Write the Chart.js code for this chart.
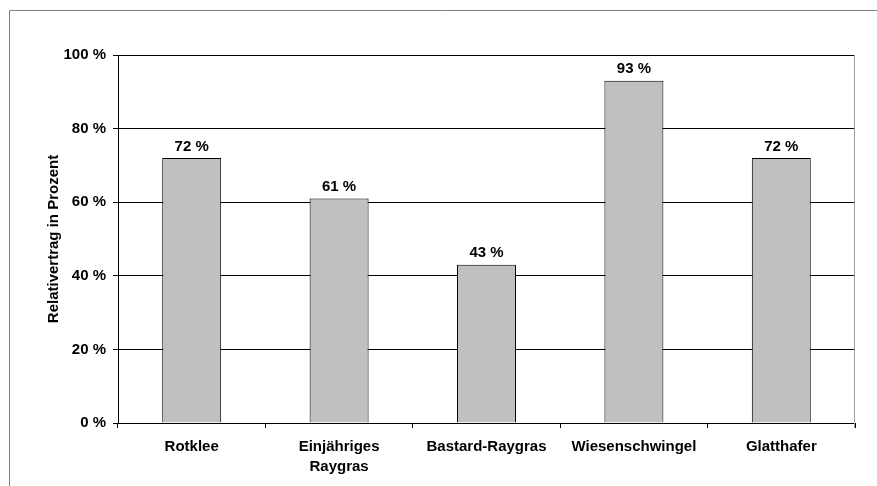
<!DOCTYPE html>
<html>
<head>
<meta charset="utf-8">
<script src="https://cdn.jsdelivr.net/npm/chart.js@4"></script>
<style>
html,body{margin:0;padding:0;background:#fff;}
#wrap{position:absolute;left:0;top:0;width:877px;height:486px;}
</style>
</head>
<body>
<div id="wrap"><canvas id="c" width="877" height="486"></canvas></div>
<script>
const categories = [["Rotklee"], ["Einjähriges", "Raygras"], ["Bastard-Raygras"], ["Wiesenschwingel"], ["Glatthafer"]];
const values = [72, 61, 43, 93, 72];
const yTicks = [0, 20, 40, 60, 80, 100];
const yTitle = "Relativertrag in Prozent";

const FONT = "'Liberation Sans', Arial, sans-serif";

const frame = {
  id: 'frame',
  beforeDraw(chart) {
    const ctx = chart.ctx;
    ctx.save();
    ctx.fillStyle = '#fff';
    ctx.fillRect(0, 0, chart.width, chart.height);
    ctx.strokeStyle = '#808080';
    ctx.lineWidth = 1;
    ctx.beginPath();
    ctx.moveTo(9.5, chart.height + 2);
    ctx.lineTo(9.5, 10.5);
    ctx.lineTo(chart.width + 2, 10.5);
    ctx.stroke();
    ctx.restore();
  },
  afterDatasetsDraw(chart) {
    const ctx = chart.ctx;
    const a = chart.chartArea;
    ctx.save();
    ctx.strokeStyle = '#a0a0a0';
    ctx.lineWidth = 1;
    ctx.beginPath();
    ctx.moveTo(Math.round(a.right) - 0.5, a.top);
    ctx.lineTo(Math.round(a.right) - 0.5, a.bottom + 5);
    ctx.stroke();
    const meta = chart.getDatasetMeta(0);
    ctx.fillStyle = '#000';
    ctx.font = 'bold 15px ' + FONT;
    ctx.textAlign = 'center';
    ctx.textBaseline = 'alphabetic';
    meta.data.forEach((bar, i) => {
      ctx.fillText(values[i] + ' %', bar.x, bar.y - 7.5);
    });
    ctx.restore();
  }
};

new Chart(document.getElementById('c'), {
  type: 'bar',
  data: {
    labels: categories,
    datasets: [{
      data: values,
      backgroundColor: '#c0c0c0',
      borderColor: '#000',
      borderWidth: 1,
      categoryPercentage: 0.4,
      barPercentage: 1.0
    }]
  },
  options: {
    responsive: false,
    animation: false,
    devicePixelRatio: 1,
    layout: { padding: { left: 0, top: 55, right: 22, bottom: 0 } },
    plugins: { legend: { display: false }, tooltip: { enabled: false } },
    scales: {
      x: {
        grid: { display: true, drawOnChartArea: false, drawTicks: true, tickLength: 5, color: '#000', offset: true },
        border: { display: true, color: '#000', width: 1 },
        ticks: { color: '#000', font: { family: FONT, size: 15, weight: 'bold', lineHeight: 1.33 }, padding: 9, maxRotation: 0, autoSkip: false },
        afterFit(s) { s.height = 63; }
      },
      y: {
        min: 0, max: 100,
        afterBuildTicks(s) { s.ticks = yTicks.map(v => ({ value: v })); },
        grid: { color: '#000', drawTicks: true, tickLength: 5, lineWidth: 1 },
        border: { display: true, color: '#000', width: 1 },
        ticks: { color: '#000', font: { family: FONT, size: 15, weight: 'bold' }, padding: 7, callback: v => v + ' %' },
        title: { display: true, text: yTitle, color: '#000', font: { family: FONT, size: 15, weight: 'bold', lineHeight: 1.2 }, padding: { top: 44.5, bottom: 0 } },
        afterFit(s) { s.width = 118; }
      }
    }
  },
  plugins: [frame]
});
</script>
</body>
</html>
